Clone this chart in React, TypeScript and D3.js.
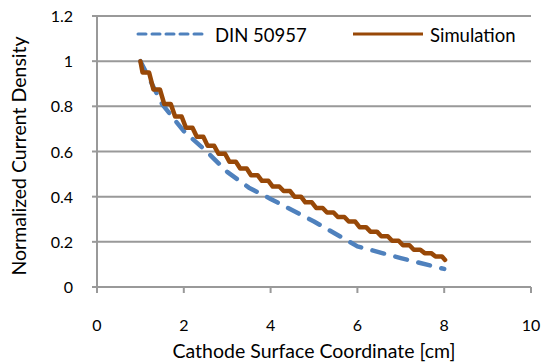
import React from 'react';
import * as d3 from 'd3';

const xTicks = [0, 2, 4, 6, 8, 10];
const yTicks = [0, 0.2, 0.4, 0.6, 0.8, 1, 1.2];
const yTickLabels = ['0', '0.2', '0.4', '0.6', '0.8', '1', '1.2'];
const seriesNames = ['DIN 50957', 'Simulation'];

const dinX = [1.0, 1.5, 2.0, 2.5, 3.0, 3.5, 4.0, 5.0, 6.0, 7.0, 8.0];
const dinY = [1.0, 0.81, 0.69, 0.605, 0.51, 0.44, 0.39, 0.29, 0.18, 0.128, 0.08];

const simX = [1.0, 1.05, 1.2, 1.3, 1.45, 1.55, 1.7, 1.8, 1.95, 2.05, 2.2, 2.3, 2.45, 2.55, 2.7,
  2.8, 2.95, 3.05, 3.2, 3.3, 3.45, 3.55, 3.7, 3.8, 3.95, 4.05, 4.2, 4.3, 4.45, 4.55, 4.7,
  4.8, 4.95, 5.05, 5.2, 5.3, 5.45, 5.55, 5.7, 5.8, 5.95, 6.05, 6.2, 6.3, 6.45, 6.55, 6.7,
  6.8, 6.95, 7.05, 7.2, 7.3, 7.45, 7.55, 7.7, 7.8, 7.95, 8.02];
const simY = [1.0, 0.95, 0.95, 0.875, 0.875, 0.81, 0.81, 0.755, 0.755, 0.705, 0.705, 0.665, 0.665, 0.625, 0.625,
  0.59, 0.59, 0.555, 0.555, 0.525, 0.525, 0.495, 0.495, 0.47, 0.47, 0.445, 0.445, 0.425, 0.425, 0.4, 0.4,
  0.375, 0.375, 0.35, 0.35, 0.33, 0.33, 0.31, 0.31, 0.29, 0.29, 0.265, 0.265, 0.245, 0.245, 0.225, 0.225,
  0.205, 0.205, 0.185, 0.185, 0.165, 0.165, 0.15, 0.15, 0.135, 0.135, 0.12];

const FONT = "Lato, 'Open Sans', sans-serif";
const BLUE = '#4f81bd';
const BROWN = '#984807';
const GRID = '#999999';

export default function App() {
  const W = 542, H = 362;
  const x = d3.scaleLinear().domain([0, 10]).range([97, 531]);
  const y = d3.scaleLinear().domain([0, 1.2]).range([287, 16]);
  const line = d3.line<[number, number]>().x(d => x(d[0])).y(d => y(d[1]));
  const dinPts = dinX.map((v, i) => [v, dinY[i]] as [number, number]);
  const simPts = simX.map((v, i) => [v, simY[i]] as [number, number]);
  const [x0, x1] = x.range();

  return (
    <svg width={W} height={H} style={{ position: 'absolute', left: 0, top: 0, background: '#fff' }}
      fontFamily={FONT}>
      <rect width={W} height={H} fill="#fff" />
      {yTicks.map(t => (
        <line key={'g' + t} x1={x0} x2={x1} y1={y(t)} y2={y(t)} stroke={GRID} strokeWidth={2} />
      ))}
      {yTicks.map(t => (
        <line key={'yt' + t} x1={x0 - 5} x2={x0} y1={y(t)} y2={y(t)} stroke={GRID} strokeWidth={2} />
      ))}
      <line x1={x0} x2={x0} y1={y(1.2)} y2={y(0) + 1} stroke={GRID} strokeWidth={2} />
      {xTicks.map(t => (
        <line key={'xt' + t} x1={x(t)} x2={x(t)} y1={y(0)} y2={y(0) + 6} stroke={GRID} strokeWidth={2} />
      ))}
      {yTicks.map((t, i) => (
        <text key={'yl' + t} x={73} y={y(t) + 6} textAnchor="end" fontSize={16} fill="#000">{yTickLabels[i]}</text>
      ))}
      {xTicks.map(t => (
        <text key={'xl' + t} x={x(t)} y={330.5} textAnchor="middle" fontSize={16} fill="#000">{t}</text>
      ))}
      <text x={(x0 + x1) / 2} y={358} textAnchor="middle" fontSize={19.5} fill="#000">Cathode Surface Coordinate [cm]</text>
      <text transform={`translate(26,156) rotate(-90)`} textAnchor="middle" fontSize={19.5} fill="#000">Normalized Current Density</text>

      <path d={line(dinPts) || ''} fill="none" stroke={BLUE} strokeWidth={4.5} strokeDasharray="12 11.7"
        strokeLinecap="round" strokeLinejoin="round" />
      <path d={line(simPts) || ''} fill="none" stroke={BROWN} strokeWidth={4.5}
        strokeLinecap="round" strokeLinejoin="round" />

      <line x1={138} x2={202} y1={34} y2={34} stroke={BLUE} strokeWidth={3} strokeDasharray="8 6" strokeLinecap="round" />
      <text x={215} y={41.5} fontSize={18.5} fill="#000">{seriesNames[0]}</text>
      <line x1={353} x2={423} y1={34} y2={34} stroke={BROWN} strokeWidth={3} />
      <text x={430} y={41.5} fontSize={18.5} fill="#000">{seriesNames[1]}</text>
    </svg>
  );
}
